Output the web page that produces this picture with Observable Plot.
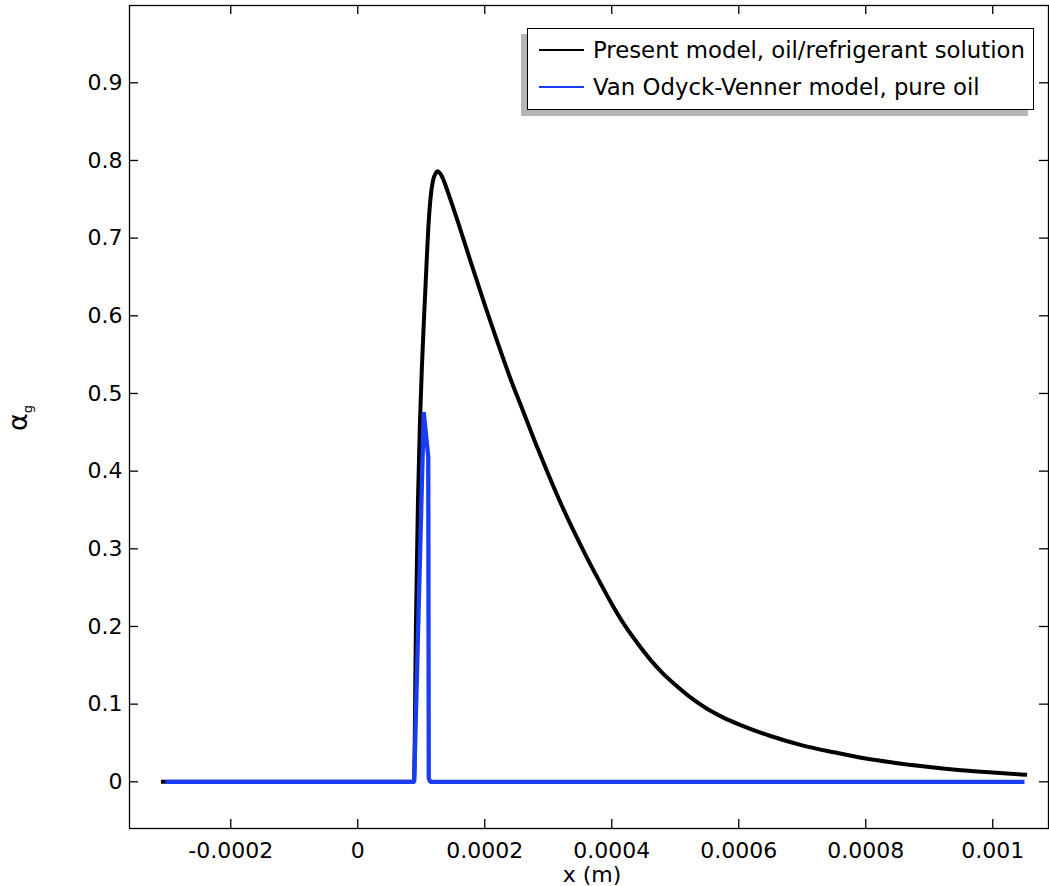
<!DOCTYPE html>
<html>
<head>
<meta charset="utf-8">
<script src="https://cdn.jsdelivr.net/npm/d3@7"></script>
<script src="https://cdn.jsdelivr.net/npm/@observablehq/plot@0.6"></script>
<style>
  html, body { margin: 0; padding: 0; background: #fff; }
  #wrap { position: relative; width: 1049px; height: 886px; font-family: "DejaVu Sans", sans-serif; color: #000; }
  #legend { position: absolute; left: 527px; top: 28px; width: 505px; height: 80px; border: 1.3px solid #000; background: #fff; box-shadow: -6px 6px 0 0 #b5b5b5; }
  .row { position: absolute; left: 0; height: 30px; display: flex; align-items: center; font-size: 22.8px; white-space: nowrap; }
  .sw { width: 45px; height: 0; border-top: 2.2px solid; margin-left: 11px; margin-right: 9px; }
  #ylab { position: absolute; left: 19px; top: 418px; transform: translate(-50%, -50%) rotate(-90deg); font-size: 27px; white-space: nowrap; line-height: 1; }
  #ylab sub { font-size: 13px; vertical-align: -5px; }
</style>
</head>
<body>
<div id="wrap"></div>
<script>
// ---- data ----
const seriesNames = ["Present model, oil/refrigerant solution", "Van Odyck-Venner model, pure oil"];
const seriesColors = ["#000000", "#1a3cf2"];

const presentX = [-0.00031, 0.0000885, 0.0000917, 0.0000948, 0.000098, 0.0001011, 0.0001043, 0.0001082, 0.0001113, 0.0001145, 0.0001184, 0.0001224, 0.0001255,
  0.00013, 0.000136, 0.000142, 0.00015, 0.00016, 0.00018, 0.0002, 0.00022, 0.00024, 0.00026, 0.00028, 0.0003, 0.00032, 0.00034, 0.00036, 0.00038, 0.0004,
  0.00042, 0.00044, 0.00046, 0.00048, 0.0005, 0.000525, 0.00055, 0.000575, 0.0006, 0.00065, 0.0007, 0.00075, 0.0008, 0.00085, 0.0009, 0.00095, 0.001, 0.001054];
const presentY = [0, 0, 0.2075, 0.362, 0.465, 0.536, 0.5965, 0.665, 0.716, 0.751, 0.774, 0.783, 0.786,
  0.783, 0.773, 0.759, 0.740, 0.715, 0.664, 0.614, 0.566, 0.520, 0.478, 0.436, 0.396, 0.358, 0.323, 0.290, 0.259, 0.229,
  0.202, 0.179, 0.158, 0.140, 0.125, 0.108, 0.094, 0.083, 0.074, 0.059, 0.047, 0.038, 0.030, 0.024, 0.019, 0.015, 0.012, 0.009];

const vovX = [-0.000303, 0.0000888, 0.0001039, 0.000111, 0.0001118, 0.000114, 0.00105];
const vovY = [0, 0, 0.476, 0.418, 0.005, 0, 0];

const xTicks = [-0.0002, 0, 0.0002, 0.0004, 0.0006, 0.0008, 0.001];
const xTickLabels = ["-0.0002", "0", "0.0002", "0.0004", "0.0006", "0.0008", "0.001"];
const yTicks = [0, 0.1, 0.2, 0.3, 0.4, 0.5, 0.6, 0.7, 0.8, 0.9];
const yTickLabels = ["0", "0.1", "0.2", "0.3", "0.4", "0.5", "0.6", "0.7", "0.8", "0.9"];
const xLabel = "x (m)";

// ---- build ----
const present = presentX.map((x, i) => ({x, y: presentY[i]}));
const vov = vovX.map((x, i) => ({x, y: vovY[i]}));

const W = 1049, H = 886, mL = 129, mT = 5, mR = 1, mB = 58;
const innerW = W - mL - mR, innerH = H - mT - mB;
const tk = 9;
const fs = 22;

const chart = Plot.plot({
  width: W, height: H,
  marginLeft: mL, marginTop: mT, marginRight: mR, marginBottom: mB,
  style: {fontFamily: "DejaVu Sans", fontSize: fs + "px", color: "#000", background: "#fff"},
  x: {domain: [-0.0003595, 0.0010878]},
  y: {domain: [-0.0601, 0.9995]},
  marks: [
    Plot.line(present, {x: "x", y: "y", stroke: seriesColors[0], strokeWidth: 4, strokeLinecap: "butt", strokeLinejoin: "round", curve: "monotone-x"}),
    Plot.line(vov, {x: "x", y: "y", stroke: seriesColors[1], strokeWidth: 4.3, strokeLinecap: "butt", strokeLinejoin: "miter"}),
    Plot.frame({stroke: "#000", strokeWidth: 1.3}),
    Plot.ruleX(xTicks, {x: d => d, insetTop: innerH - tk, stroke: "#000", strokeWidth: 1.3}),
    Plot.ruleX(xTicks, {x: d => d, insetBottom: innerH - tk, stroke: "#000", strokeWidth: 1.3}),
    Plot.ruleY(yTicks, {y: d => d, insetRight: innerW - tk, stroke: "#000", strokeWidth: 1.3}),
    Plot.ruleY(yTicks, {y: d => d, insetLeft: innerW - tk, stroke: "#000", strokeWidth: 1.3}),
    Plot.axisX({ticks: xTicks, tickSize: 0, tickPadding: 14, tickFormat: d => xTickLabels[xTicks.indexOf(d)], label: null, fontSize: fs}),
    Plot.axisY({ticks: yTicks, tickSize: 0, tickPadding: 7, tickFormat: d => yTickLabels[yTicks.indexOf(d)], label: null, fontSize: fs}),
    Plot.text([xLabel], {text: d => d, frameAnchor: "bottom", dx: 3, dy: 46, fontSize: fs, lineAnchor: "middle"})
  ]
});

const wrap = document.getElementById("wrap");
wrap.appendChild(chart);
chart.style.position = "absolute";
chart.style.left = "0";
chart.style.top = "0";

const ylab = document.createElement("div");
ylab.id = "ylab";
ylab.innerHTML = "α<sub>g</sub>";
wrap.appendChild(ylab);

const legend = document.createElement("div");
legend.id = "legend";
seriesNames.forEach((name, i) => {
  const row = document.createElement("div");
  row.className = "row";
  row.style.top = (i === 0 ? 6 : 43) + "px";
  const sw = document.createElement("div");
  sw.className = "sw";
  sw.style.borderTopColor = seriesColors[i];
  const t = document.createElement("span");
  t.textContent = name;
  row.appendChild(sw);
  row.appendChild(t);
  legend.appendChild(row);
});
wrap.appendChild(legend);
</script>
</body>
</html>
